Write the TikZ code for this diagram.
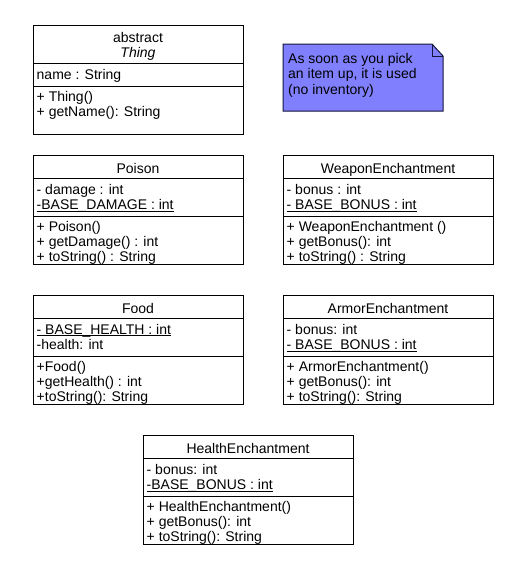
\documentclass[tikz,border=0pt]{standalone}
\usepackage{fontspec}
\setmainfont{Liberation Sans}
\definecolor{notefill}{RGB}{128,128,255}
\definecolor{noteline}{RGB}{20,20,60}
\newcommand\cls{\fontsize{14}{16}\selectfont}
\newcommand\myul[1]{\setbox0\hbox{#1}\rlap{\rule[-2pt]{\wd0}{0.8pt}}\box0}
\newcommand\umlclass[8]{%
  \node[classbox] (#1) at (#2) {};
  \draw[sepline] ([yshift=-23pt]#1.north west) -- ([yshift=-23pt]#1.north east);
  \draw[sepline] ([yshift=-61pt]#1.north west) -- ([yshift=-61pt]#1.north east);
  \node[ttl] (#1-t) at ([yshift=-18pt]#1.north) {#3};
  \node[txt] (#1-a1) at ([xshift=3.5pt,yshift=-39pt]#1.north west) {#4};
  \node[txt] (#1-a2) at ([xshift=3.5pt,yshift=-54.5pt]#1.north west) {#5};
  \node[txt] (#1-m1) at ([xshift=3.5pt,yshift=-76.5pt]#1.north west) {#6};
  \node[txt] (#1-m2) at ([xshift=3.5pt,yshift=-91.5pt]#1.north west) {#7};
  \node[txt] (#1-m3) at ([xshift=3.5pt,yshift=-106.5pt]#1.north west) {#8};
}
\begin{document}
\begin{tikzpicture}[x=1pt,y=-1pt,
  classbox/.style={draw=black, line width=1pt, fill=white, anchor=north west,
    minimum width=210pt, minimum height=109pt, inner sep=0pt, outer sep=0pt},
  txt/.style={anchor=base west, inner sep=0pt, font=\cls},
  ttl/.style={anchor=base, inner sep=0pt, font=\cls},
  sepline/.style={line width=1pt}]
\useasboundingbox (0,0) rectangle (523,581);
\fill[white] (0,0) rectangle (523,581);

% abstract Thing
\node[classbox] (thing) at (33,25) {};
\draw[sepline] ([yshift=-38pt]thing.north west) -- ([yshift=-38pt]thing.north east);
\draw[sepline] ([yshift=-61pt]thing.north west) -- ([yshift=-61pt]thing.north east);
\node[ttl] (thing-s) at ([yshift=-17.8pt]thing.north) {abstract};
\node[ttl] (thing-t) at ([yshift=-32.5pt]thing.north) {\itshape Thing};
\node[txt] (thing-a1) at ([xshift=3.5pt,yshift=-54.5pt]thing.north west) {name : String};
\node[txt] (thing-m1) at ([xshift=3.5pt,yshift=-76.5pt]thing.north west) {+ Thing()};
\node[txt] (thing-m2) at ([xshift=3.5pt,yshift=-91.5pt]thing.north west) {+ getName(): String};

% note
\coordinate (note) at (283,44);
\draw[draw=noteline, line width=1pt, fill=notefill]
  (note) -- (432,44) -- (443,56) -- (443,111) -- (283,111) -- cycle;
\draw[draw=noteline, line width=1pt] (432,44) -- (432,56) -- (443,56);
\node[txt] (note-1) at (288,63) {As soon as you pick};
\node[txt] (note-2) at (288,78.5) {an item up, it is used};
\node[txt] (note-3) at (288,94) {(no inventory)};

\umlclass{poison}{33,155}{Poison}{- damage : int}{\myul{-BASE\_DAMAGE : int}}%
  {+ Poison()}{+ getDamage() : int}{+ toString() : String}
\umlclass{weapon}{283,155}{WeaponEnchantment}{- bonus : int}{\myul{- BASE\_BONUS : int}}%
  {+ WeaponEnchantment ()}{+ getBonus(): int}{+ toString() : String}
\umlclass{food}{33,295}{Food}{\myul{- BASE\_HEALTH : int}}{-health: int}%
  {+Food()}{+getHealth() : int}{+toString(): String}
\umlclass{armor}{283,295}{ArmorEnchantment}{- bonus: int}{\myul{- BASE\_BONUS : int}}%
  {+ ArmorEnchantment()}{+ getBonus(): int}{+ toString(): String}
\umlclass{health}{143,435}{HealthEnchantment}{- bonus: int}{\myul{-BASE\_BONUS : int}}%
  {+ HealthEnchantment()}{+ getBonus(): int}{+ toString(): String}
\end{tikzpicture}
\end{document}
